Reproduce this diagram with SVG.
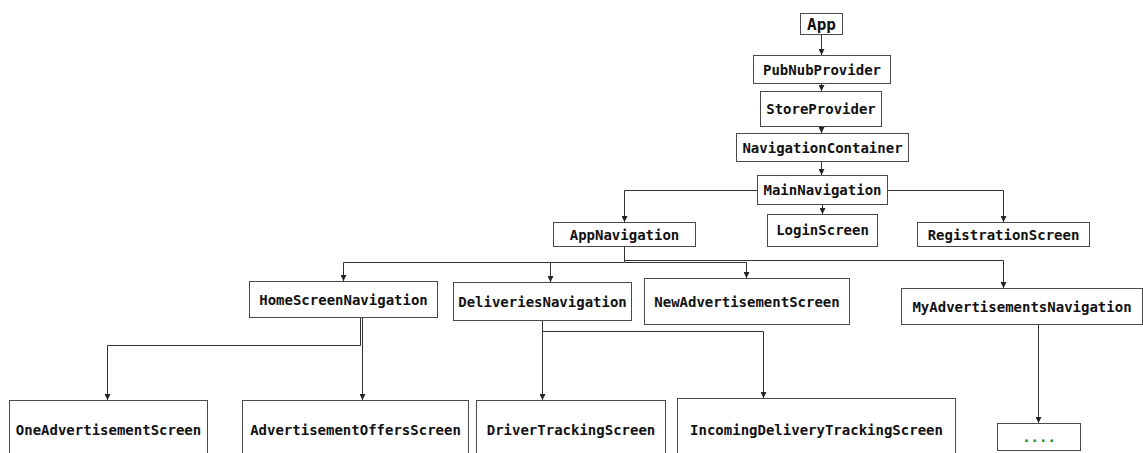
<svg xmlns="http://www.w3.org/2000/svg" width="1143" height="453" viewBox="0 0 1143 453">
<style>
.box{fill:#fff;stroke:#4a4a4a;stroke-width:1}
.t{font-family:"DejaVu Sans Mono","Liberation Mono",monospace;font-weight:bold;font-size:14px;fill:#111;text-anchor:middle;dominant-baseline:central}
.conn path{fill:none;stroke:#333;stroke-width:1}
</style>
<defs>
<marker id="ah" viewBox="0 0 6 6" refX="6" refY="3" markerWidth="6" markerHeight="6" markerUnits="userSpaceOnUse" orient="auto">
<path d="M0,0 L6,3 L0,6 z" fill="#222"/>
</marker>
</defs>
<rect width="1143" height="453" fill="#fff"/>
<g class="conn">
<path d="M821.5,34 V55" marker-end="url(#ah)"/>
<path d="M821.5,83 V91" marker-end="url(#ah)"/>
<path d="M821.5,126 V133" marker-end="url(#ah)"/>
<path d="M821.5,161 V175" marker-end="url(#ah)"/>
<path d="M757,190.5 H624.5 V222" marker-end="url(#ah)"/>
<path d="M822.5,204 V214" marker-end="url(#ah)"/>
<path d="M887,190.5 H1003.5 V222" marker-end="url(#ah)"/>
<path d="M624.5,246 V260.5 H1003.5 V288" marker-end="url(#ah)"/>
<path d="M624.5,246 V262.5 H343.5 V281" marker-end="url(#ah)"/>
<path d="M550.5,262.5 V282" marker-end="url(#ah)"/>
<path d="M624.5,262.5 H746.5 V278" marker-end="url(#ah)"/>
<path d="M360.5,317 V345.5 H107.5 V400" marker-end="url(#ah)"/>
<path d="M362.5,317 V400" marker-end="url(#ah)"/>
<path d="M542.5,320 V400" marker-end="url(#ah)"/>
<path d="M542.5,331.5 H763.5 V398" marker-end="url(#ah)"/>
<path d="M1038.5,324 V423" marker-end="url(#ah)"/>
</g>
<g id="app"><rect class="box" x="800.5" y="13.5" width="42" height="21"/><text class="t" x="821.5" y="24" style="font-size:16px">App</text></g>
<g id="pubnub"><rect class="box" x="753.5" y="55.5" width="137" height="28"/><text class="t" x="822" y="69.5">PubNubProvider</text></g>
<g id="store"><rect class="box" x="760.5" y="91.5" width="121" height="35"/><text class="t" x="821" y="109">StoreProvider</text></g>
<g id="navcont"><rect class="box" x="736.5" y="133.5" width="172" height="28"/><text class="t" x="822.5" y="147.5">NavigationContainer</text></g>
<g id="mainnav"><rect class="box" x="757.5" y="175.5" width="130" height="29"/><text class="t" x="822.5" y="190">MainNavigation</text></g>
<g id="appnav"><rect class="box" x="553.5" y="222.5" width="142" height="24"/><text class="t" x="624.5" y="234.5">AppNavigation</text></g>
<g id="login"><rect class="box" x="767.5" y="214.5" width="110" height="32"/><text class="t" x="822.5" y="230">LoginScreen</text></g>
<g id="registration"><rect class="box" x="917.5" y="222.5" width="172" height="24"/><text class="t" x="1003.5" y="234.5">RegistrationScreen</text></g>
<g id="homenav"><rect class="box" x="249.5" y="281.5" width="188" height="36"/><text class="t" x="343.5" y="299.5">HomeScreenNavigation</text></g>
<g id="delivnav"><rect class="box" x="453.5" y="282.5" width="178" height="38"/><text class="t" x="542.5" y="301.5">DeliveriesNavigation</text></g>
<g id="newadv"><rect class="box" x="644.5" y="278.5" width="205" height="46"/><text class="t" x="747" y="301.5">NewAdvertisementScreen</text></g>
<g id="myadvnav"><rect class="box" x="901.5" y="288.5" width="241" height="36"/><text class="t" x="1022" y="306.5">MyAdvertisementsNavigation</text></g>
<g id="oneadv"><rect class="box" x="9.5" y="400.5" width="198" height="70"/><text class="t" x="108.5" y="430">OneAdvertisementScreen</text></g>
<g id="advoffers"><rect class="box" x="242.5" y="400.5" width="226" height="70"/><text class="t" x="355.5" y="430">AdvertisementOffersScreen</text></g>
<g id="driver"><rect class="box" x="476.5" y="400.5" width="189" height="70"/><text class="t" x="571" y="430">DriverTrackingScreen</text></g>
<g id="incoming"><rect class="box" x="677.5" y="398.5" width="278" height="70"/><text class="t" x="816.5" y="430">IncomingDeliveryTrackingScreen</text></g>
<g id="more"><rect class="box" x="997.5" y="423.5" width="83" height="27"/><text class="t" x="1039" y="437" style="fill:#1a8c1a">....</text></g>
</svg>
